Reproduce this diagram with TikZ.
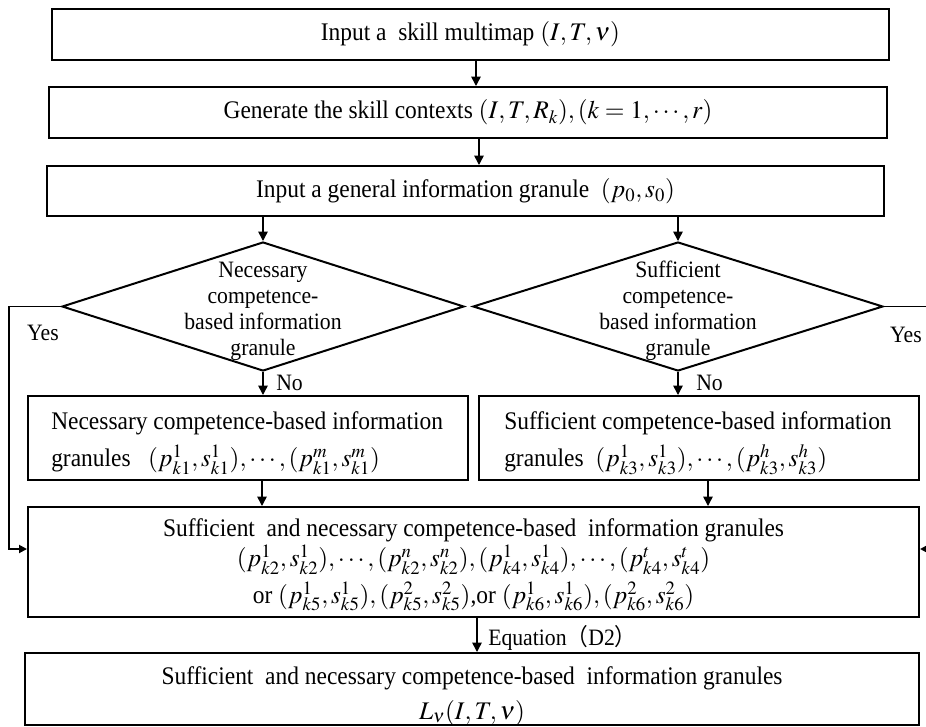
\documentclass[tikz,border=0pt]{standalone}
\usepackage{mathptmx}
\usepackage[no-math]{fontspec}
\setmainfont{Liberation Serif}[FakeStretch=0.925]
\newfontfamily\cjkfont{Noto Sans CJK SC}[FakeStretch=0.925]
\usetikzlibrary{shapes.geometric,arrows.meta,calc}
\newcommand\flowboxfont{\fontsize{19}{22}\selectfont}
\newcommand\flowsmallfont{\fontsize{17.6}{19.5}\selectfont}
\begin{document}
\begin{tikzpicture}[x=0.75pt,y=-0.75pt,
  box/.style={draw, line width=1.5pt, inner sep=0pt, align=center, font=\flowboxfont},
  decision/.style={draw, diamond, line width=1.5pt, inner sep=0pt},
  dtext/.style={align=center, font=\flowsmallfont, inner sep=0pt},
  btext/.style={inner sep=0pt},
  lbl/.style={font=\flowsmallfont, inner sep=0pt},
  arr/.style={line width=1.1pt, -{Triangle[length=7pt,width=7pt]}},
  yesline/.style={line width=1.4pt, -{Triangle[length=6pt,width=6pt]}}]
\path[use as bounding box] (0,0) rectangle (926,726);
\fill[white] (0,0) rectangle (926,726);
\clip (0,0) rectangle (926,726);

% main column
\node[box, minimum width=627.75pt, minimum height=38.25pt] (b1) at (470.5,34.5)
  {Input a\ \ skill multimap $(I,T,\nu)$};
\node[box, minimum width=628.5pt, minimum height=38.25pt] (b2) at (468,112.5)
  {Generate the skill contexts\ $(I,T,R_k),(k=1,\cdots,r)$};
\node[box, minimum width=627.75pt, minimum height=37.5pt] (b3) at (465.5,191)
  {Input a general information granule\ \ $(p_0,s_0)$};

% decisions
\node[decision, minimum width=301.5pt, minimum height=96.75pt] (d1) at (263,306.5) {};
\node[dtext] (d1t) at (263,311) {Necessary\\competence-\\based information\\granule};
\node[decision, minimum width=307.5pt, minimum height=96.75pt] (d2) at (678,306.5) {};
\node[dtext] (d2t) at (678,311) {Sufficient\\competence-\\based information\\granule};

% partial results
\node[box, minimum width=330pt, minimum height=63pt] (b4) at (248,438) {};
\node[btext, anchor=west, align=left, font=\fontsize{19}{27.75}\selectfont] (b4t) at (51,443)
  {Necessary competence-based information\\granules\ \ \ $(p^1_{k1},s^1_{k1}),\cdots,(p^m_{k1},s^m_{k1})$};
\node[box, minimum width=330pt, minimum height=63pt] (b5) at (699,438) {};
\node[btext, anchor=west, align=left, font=\fontsize{19}{27.75}\selectfont] (b5t) at (504,443)
  {Sufficient competence-based information\\granules\ \ $(p^1_{k3},s^1_{k3}),\cdots,(p^h_{k3},s^h_{k3})$};

% combined result
\node[box, minimum width=668.25pt, minimum height=82.5pt] (big) at (473.5,562) {};
\node[btext, align=center, font=\fontsize{19}{22.5}\selectfont] (bigt) at (473.5,565)
  {Sufficient\ \ and necessary competence-based\ \ information granules\\
   $(p^1_{k2},s^1_{k2}),\cdots,(p^n_{k2},s^n_{k2}),(p^1_{k4},s^1_{k4}),\cdots,(p^t_{k4},s^t_{k4})$\\[5pt]
   or\ $(p^1_{k5},s^1_{k5}),(p^2_{k5},s^2_{k5})$,or\ $(p^1_{k6},s^1_{k6}),(p^2_{k6},s^2_{k6})$};

\node[box, minimum width=670.5pt, minimum height=54pt] (bot) at (472,689) {};
\node[btext, align=center, font=\fontsize{19}{26}\selectfont] (bott) at (472,696)
  {Sufficient\ \ and necessary competence-based\ \ information granules\\$L_\nu(I,T,\nu)$};

% connectors
\draw[arr] (b1.south) ++(5.5,0) coordinate (t1) -- (t1 |- b2.north);
\draw[arr] (b2.south) ++(11,0) coordinate (t2) -- (t2 |- b3.north);
\draw[arr] (b3.south -| d1.north) -- (d1.north);
\draw[arr] (b3.south -| d2.north) -- (d2.north);
\draw[arr] (d1.south) -- (d1.south |- b4.north);
\draw[arr] (d2.south) -- (d2.south |- b5.north);
\draw[arr] (b4.south) ++(14,0) coordinate (t4) -- (t4 |- big.north);
\draw[arr] (b5.south) ++(9,0) coordinate (t5) -- (t5 |- big.north);
\draw[arr] (big.south) ++(3.5,0) coordinate (t6) -- (t6 |- bot.north);
\draw[yesline] (d1.west) -- ++(-52,0) |- ([yshift=9.75pt]big.west);
\draw[yesline] (d2.east) -- ++(52,0) |- ([yshift=9.75pt]big.east);

% branch labels
\node[lbl] (y1) at (43,333) {Yes};
\node[lbl] (y2) at (906,335) {Yes};
\node[lbl, anchor=west] (n1) at (276,383) {No};
\node[lbl, anchor=west] (n2) at (696,383) {No};
\node[lbl, anchor=west] (eq) at (488,638) {Equation{\cjkfont （}D2{\cjkfont ）}};
\end{tikzpicture}
\end{document}
